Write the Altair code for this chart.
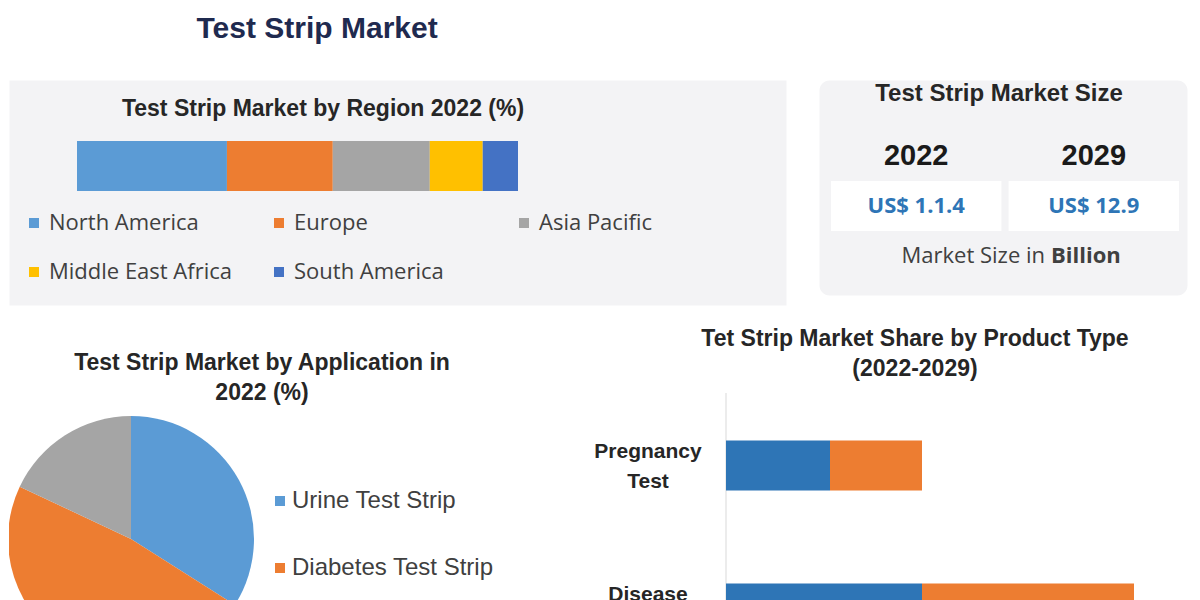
import altair as alt
import pandas as pd

# ---------------- data ----------------
regions = ["North America", "Europe", "Asia Pacific", "Middle East Africa", "South America"]
region_share = [34, 24, 22, 12, 8]
region_colors = ["#5b9bd5", "#ed7d31", "#a5a5a5", "#ffc000", "#4472c4"]
# legend fills column by column: this order gives rows NA/Europe/AP and MEA/SA
region_legend_order = ["North America", "Middle East Africa", "Europe", "South America", "Asia Pacific"]

size_years = ["2022", "2029"]
size_values = ["US$ 1.1.4", "US$ 12.9"]

applications = ["Urine Test Strip", "Diabetes Test Strip", "Others"]
application_share = [34, 48, 18]
application_colors = ["#5b9bd5", "#ed7d31", "#a5a5a5"]

products = ["Pregnancy Test", "Disease Testing"]
series = ["2022", "2029"]
product_2022 = [2.6, 4.9]
product_2029 = [2.3, 5.3]
series_colors = ["#2e75b6", "#ed7d31"]

BG = "#f3f3f5"
DARK = "#262626"
GREY = "#404040"


def txt(s, x, y, size, bold=True, color=DARK, font="Liberation Sans", align="center"):
    return alt.Chart(alt.Data(values=[{"t": s}])).mark_text(
        text=s, fontSize=size, fontWeight="bold" if bold else "normal",
        color=color, font=font, align=align, baseline="middle"
    ).encode(x=alt.value(x), y=alt.value(y))


# ---------------- region panel ----------------
df_region = pd.DataFrame({"region": regions, "share": region_share,
                          "ord": list(range(len(regions))), "year": "2022"})
region_bar = alt.Chart(df_region).mark_bar().encode(
    x=alt.X("share:Q", stack="zero", scale=alt.Scale(domain=[0, 100], range=[68, 509]), axis=None),
    y=alt.Y("year:N", scale=alt.Scale(range=[61, 111], paddingInner=0, paddingOuter=0), axis=None),
    color=alt.Color("region:N", scale=alt.Scale(domain=regions, range=region_colors),
                    legend=alt.Legend(title=None, orient="none", legendX=14, legendY=132,
                                      values=region_legend_order,
                                      columns=3, gridAlign="all", columnPadding=36, rowPadding=27,
                                      symbolType="square", symbolSize=100, symbolStrokeWidth=0,
                                      labelFont="Open Sans", labelFontSize=22, labelColor=GREY,
                                      labelOffset=4, padding=0, labelLimit=400)),
    order=alt.Order("ord:Q"),
)
region_panel = alt.layer(
    txt("Test Strip Market by Region 2022 (%)", 314, 29, 23),
    region_bar,
).properties(width=777, height=225, view=alt.ViewBackground(fill=BG, stroke="transparent"))

# ---------------- market size panel ----------------
df_size = pd.DataFrame({"year": size_years, "value": size_values})
xs = alt.X("year:N", scale=alt.Scale(domain=size_years, range=[12, 360], paddingInner=0.04, paddingOuter=0),
           axis=None)
boxes = alt.Chart(df_size).mark_rect(color="white").encode(x=xs, y=alt.value(101), y2=alt.value(151))
year_text = alt.Chart(df_size).mark_text(fontSize=29, fontWeight="bold", font="Liberation Sans",
                                         color="#1a1a1a", baseline="middle").encode(
    x=xs, y=alt.value(76), text="year:N")
value_text = alt.Chart(df_size).mark_text(fontSize=22, fontWeight="bold", font="Open Sans",
                                          color="#2e75b6", baseline="middle").encode(
    x=xs, y=alt.value(126), text="value:N")
size_panel = alt.layer(
    boxes, year_text, value_text,
    txt("Test Strip Market Size", 180, 14, 24),
    txt("Market Size in", 226, 176, 22, bold=False, color=GREY, font="Open Sans", align="right"),
    txt("Billion", 232, 176, 22, bold=True, color=GREY, font="Open Sans", align="left"),
).properties(width=368, height=215,
             view=alt.ViewBackground(fill=BG, stroke="transparent", cornerRadius=10))

# ---------------- application pie panel ----------------
df_app = pd.DataFrame({"app": applications, "share": application_share,
                       "ord": list(range(len(applications)))})
pie = alt.Chart(df_app).mark_arc(outerRadius=123, clip=True).encode(
    theta=alt.Theta("share:Q", stack=True),
    color=alt.Color("app:N", scale=alt.Scale(domain=applications, range=application_colors),
                    legend=alt.Legend(title=None, orient="none", legendX=259, legendY=176,
                                      values=applications[:2], rowPadding=43,
                                      symbolType="square", symbolSize=100, symbolStrokeWidth=0,
                                      labelFont="Liberation Sans", labelFontSize=24, labelColor=GREY,
                                      labelOffset=0, padding=0, labelLimit=400)),
    order=alt.Order("ord:Q"),
    x=alt.value(122), y=alt.value(226),
)
pie_panel = alt.layer(
    pie,
    txt("Test Strip Market by Application in", 253, 50, 23),
    txt("2022 (%)", 253, 80, 23),
).properties(width=552, height=290, view=alt.ViewBackground(fill="white", stroke="transparent"))

# ---------------- product type panel ----------------
rows = []
for i, p in enumerate(products):
    rows.append({"product": p, "series": series[0], "value": product_2022[i], "ord": 0})
    rows.append({"product": p, "series": series[1], "value": product_2029[i], "ord": 1})
df_prod = pd.DataFrame(rows)
ys = alt.Y("product:N", scale=alt.Scale(domain=products, range=[81, 367],
                                         paddingInner=0.65, paddingOuter=0.325), axis=None)
prod_bars = alt.Chart(df_prod).mark_bar(clip=True).encode(
    x=alt.X("value:Q", stack="zero", scale=alt.Scale(domain=[0, 12], range=[163, 643]), axis=None),
    y=ys,
    color=alt.Color("series:N", scale=alt.Scale(domain=series, range=series_colors), legend=None),
    order=alt.Order("ord:Q"),
)
prod_labels = alt.Chart(pd.DataFrame({"product": products})).mark_text(
    lineBreak=" ", lineHeight=30, fontSize=21, fontWeight="bold", font="Liberation Sans",
    color=DARK, clip=True, baseline="middle", dy=-14
).encode(y=ys, x=alt.value(85), text="product:N")
axis_line = alt.Chart(alt.Data(values=[{}])).mark_rule(color="#d9d9d9", strokeWidth=1).encode(
    x=alt.value(163), y=alt.value(80), y2=alt.value(290))
product_panel = alt.layer(
    axis_line, prod_bars, prod_labels,
    txt("Tet Strip Market Share by Product Type", 352, 26, 23),
    txt("(2022-2029)", 352, 56, 23),
).properties(width=628, height=290, view=alt.ViewBackground(fill="white", stroke="transparent"))

# ---------------- assemble ----------------
row1 = alt.hconcat(region_panel, size_panel, spacing=31).resolve_scale(color="independent")
row2 = alt.hconcat(pie_panel, product_panel, spacing=0).resolve_scale(color="independent")
chart = alt.vconcat(row1, row2, spacing=6).resolve_scale(color="independent").properties(
    padding={"left": 0, "top": 5, "right": 0, "bottom": 0},
    background="white",
    title=alt.TitleParams("Test Strip Market", anchor="start", dx=188, fontSize=30,
                          font="Liberation Sans", fontWeight="bold", color="#1f2a4f", offset=36),
).configure_view(stroke="transparent")

chart.save("out.html", embed_options={"renderer": "svg", "actions": False})
